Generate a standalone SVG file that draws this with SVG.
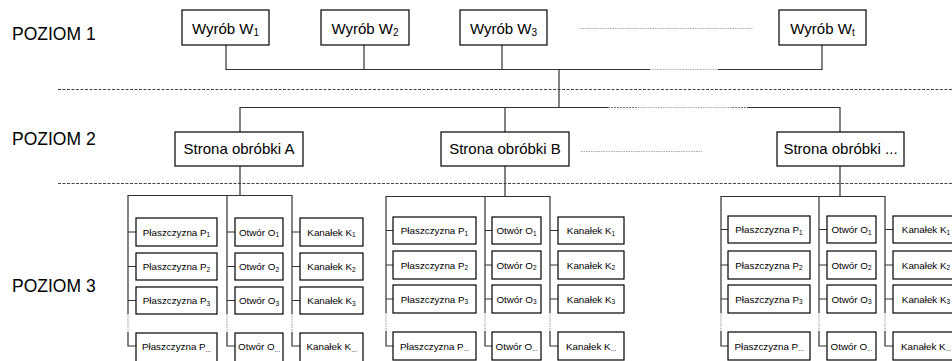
<svg xmlns="http://www.w3.org/2000/svg" width="952" height="361" viewBox="0 0 952 361">
<style>
.bg{fill:#fff}
.box{fill:#fff;stroke:#000;stroke-width:1.2}
.ln{fill:none;stroke:#333;stroke-width:1.2}
.dot{fill:none;stroke:#aaa;stroke-width:1.2;stroke-dasharray:1.5 1}
.dk{fill:none;stroke:#777;stroke-width:1.2;stroke-dasharray:2 1}
.dash{fill:none;stroke:#444;stroke-width:1;stroke-dasharray:3 1.5}
.lvl{font-family:"Liberation Sans",Arial,sans-serif;font-size:17.5px;fill:#000}
.t1{font-family:"Liberation Sans",Arial,sans-serif;font-size:15px;fill:#000;text-anchor:middle}
.t3{font-family:"Liberation Sans",Arial,sans-serif;font-size:9.8px;fill:#000;text-anchor:middle}
.s1{font-size:10px}
.s3{font-size:6.5px}
</style>
<rect class="bg" width="952" height="361"/>
<text class="lvl" x="12" y="40">POZIOM 1</text>
<text class="lvl" x="12" y="145">POZIOM 2</text>
<text class="lvl" x="12" y="292">POZIOM 3</text>
<g id="separators">
<line class="dash" x1="58" y1="89.5" x2="952" y2="89.5"/>
<line class="dash" x1="58" y1="183.5" x2="952" y2="183.5"/>
<line class="dot" x1="580" y1="28.5" x2="753" y2="28.5"/>
<line class="dot" x1="581" y1="151.5" x2="702" y2="151.5"/>
</g>
<g id="connectors">
<path class="ln" d="M226 45V69.5H650M718 69.5H822V45M364 45V69.5M502 45V69.5M559 69.5V107.5"/>
<line class="dot" x1="650" y1="69.5" x2="718" y2="69.5"/>
<path class="ln" d="M240 132V107.5H608M747 107.5H840V132M505 107.5V132"/>
<line class="dk" x1="608" y1="107.5" x2="638" y2="107.5"/>
<line class="dot" x1="638" y1="107.5" x2="732" y2="107.5"/>
<line class="dk" x1="732" y1="107.5" x2="747" y2="107.5"/>
<path class="ln" d="M240 166V195.5M128 314V195.5H292V314M227 195.5V314"/>
<path class="ln" d="M128 332V346H136M227 332V346H235M292 332V346H300"/>
<path class="ln" d="M128 232H136M128 266.5H136M128 300.5H136M227 232H235M227 266.5H235M227 300.5H235M292 232H300M292 266.5H300M292 300.5H300"/>
<path class="dot" d="M128 314V332M227 314V332M292 314V332"/>
<path class="ln" d="M505 166V196.5M386 313V196.5H550V313M485 196.5V313"/>
<path class="ln" d="M386 331V346H393M485 331V346H492M550 331V346H558"/>
<path class="ln" d="M386 230.5H393M386 265H393M386 299H393M485 230.5H492M485 265H492M485 299H492M550 230.5H558M550 265H558M550 299H558"/>
<path class="dot" d="M386 313V331M485 313V331M550 313V331"/>
<path class="ln" d="M840 166V196.5M721 313V196.5H885V313M819 196.5V313"/>
<path class="ln" d="M721 331V346H728M819 331V346H827M885 331V346H893"/>
<path class="ln" d="M721 229.5H728M721 265H728M721 299H728M819 229.5H827M819 265H827M819 299H827M885 229.5H893M885 265H893M885 299H893"/>
<path class="dot" d="M721 313V331M819 313V331M885 313V331"/>
</g>
<g id="w1"><rect class="box" x="182" y="10" width="87" height="35"/><text class="t1" x="225.5" y="33.5">Wyrób W<tspan class="s1" dy="2">1</tspan></text></g>
<g id="w2"><rect class="box" x="321" y="10" width="88" height="35"/><text class="t1" x="365" y="33.5">Wyrób W<tspan class="s1" dy="2">2</tspan></text></g>
<g id="w3"><rect class="box" x="460" y="10" width="87" height="35"/><text class="t1" x="503.5" y="33.5">Wyrób W<tspan class="s1" dy="2">3</tspan></text></g>
<g id="wt"><rect class="box" x="779" y="10" width="87" height="35"/><text class="t1" x="822.5" y="33.5">Wyrób W<tspan class="s1" dy="2">t</tspan></text></g>
<g id="sA"><rect class="box" x="175" y="132" width="128" height="34"/><text class="t1" x="239" y="154">Strona obróbki A</text></g>
<g id="sB"><rect class="box" x="441" y="132" width="128" height="34"/><text class="t1" x="505" y="154">Strona obróbki B</text></g>
<g id="sC"><rect class="box" x="777" y="132" width="127" height="34"/><text class="t1" x="840.5" y="154">Strona obróbki ...</text></g>
<g id="A-P1"><rect class="box" x="136" y="218" width="81" height="28"/><text class="t3" x="176.5" y="235.5">Płaszczyzna P<tspan class="s3" dy="1.5">1</tspan></text></g>
<g id="A-P2"><rect class="box" x="136" y="253" width="81" height="27"/><text class="t3" x="176.5" y="270">Płaszczyzna P<tspan class="s3" dy="1.5">2</tspan></text></g>
<g id="A-P3"><rect class="box" x="136" y="287" width="81" height="27"/><text class="t3" x="176.5" y="304">Płaszczyzna P<tspan class="s3" dy="1.5">3</tspan></text></g>
<g id="A-P4"><rect class="box" x="136" y="333" width="81" height="32"/><text class="t3" x="176.5" y="350">Płaszczyzna P<tspan class="s3" dy="1.5">...</tspan></text></g>
<g id="A-O1"><rect class="box" x="235" y="218" width="48" height="28"/><text class="t3" x="259" y="235.5">Otwór O<tspan class="s3" dy="1.5">1</tspan></text></g>
<g id="A-O2"><rect class="box" x="235" y="253" width="48" height="27"/><text class="t3" x="259" y="270">Otwór O<tspan class="s3" dy="1.5">2</tspan></text></g>
<g id="A-O3"><rect class="box" x="235" y="287" width="48" height="27"/><text class="t3" x="259" y="304">Otwór O<tspan class="s3" dy="1.5">3</tspan></text></g>
<g id="A-O4"><rect class="box" x="235" y="333" width="48" height="32"/><text class="t3" x="259" y="350">Otwór O<tspan class="s3" dy="1.5">...</tspan></text></g>
<g id="A-K1"><rect class="box" x="300" y="218" width="63" height="28"/><text class="t3" x="331.5" y="235.5">Kanałek K<tspan class="s3" dy="1.5">1</tspan></text></g>
<g id="A-K2"><rect class="box" x="300" y="253" width="63" height="27"/><text class="t3" x="331.5" y="270">Kanałek K<tspan class="s3" dy="1.5">2</tspan></text></g>
<g id="A-K3"><rect class="box" x="300" y="287" width="63" height="27"/><text class="t3" x="331.5" y="304">Kanałek K<tspan class="s3" dy="1.5">3</tspan></text></g>
<g id="A-K4"><rect class="box" x="300" y="333" width="63" height="32"/><text class="t3" x="331.5" y="350">Kanałek K<tspan class="s3" dy="1.5">...</tspan></text></g>
<g id="B-P1"><rect class="box" x="393" y="217" width="83" height="27"/><text class="t3" x="434.5" y="234">Płaszczyzna P<tspan class="s3" dy="1.5">1</tspan></text></g>
<g id="B-P2"><rect class="box" x="393" y="251" width="83" height="28"/><text class="t3" x="434.5" y="268.5">Płaszczyzna P<tspan class="s3" dy="1.5">2</tspan></text></g>
<g id="B-P3"><rect class="box" x="393" y="285" width="83" height="28"/><text class="t3" x="434.5" y="302.5">Płaszczyzna P<tspan class="s3" dy="1.5">3</tspan></text></g>
<g id="B-P4"><rect class="box" x="393" y="332" width="83" height="28"/><text class="t3" x="434.5" y="349.5">Płaszczyzna P<tspan class="s3" dy="1.5">...</tspan></text></g>
<g id="B-O1"><rect class="box" x="492" y="217" width="49" height="27"/><text class="t3" x="516.5" y="234">Otwór O<tspan class="s3" dy="1.5">1</tspan></text></g>
<g id="B-O2"><rect class="box" x="492" y="251" width="49" height="28"/><text class="t3" x="516.5" y="268.5">Otwór O<tspan class="s3" dy="1.5">2</tspan></text></g>
<g id="B-O3"><rect class="box" x="492" y="285" width="49" height="28"/><text class="t3" x="516.5" y="302.5">Otwór O<tspan class="s3" dy="1.5">3</tspan></text></g>
<g id="B-O4"><rect class="box" x="492" y="332" width="49" height="28"/><text class="t3" x="516.5" y="349.5">Otwór O<tspan class="s3" dy="1.5">...</tspan></text></g>
<g id="B-K1"><rect class="box" x="558" y="217" width="66" height="27"/><text class="t3" x="591" y="234">Kanałek K<tspan class="s3" dy="1.5">1</tspan></text></g>
<g id="B-K2"><rect class="box" x="558" y="251" width="66" height="28"/><text class="t3" x="591" y="268.5">Kanałek K<tspan class="s3" dy="1.5">2</tspan></text></g>
<g id="B-K3"><rect class="box" x="558" y="285" width="66" height="28"/><text class="t3" x="591" y="302.5">Kanałek K<tspan class="s3" dy="1.5">3</tspan></text></g>
<g id="B-K4"><rect class="box" x="558" y="332" width="66" height="28"/><text class="t3" x="591" y="349.5">Kanałek K<tspan class="s3" dy="1.5">...</tspan></text></g>
<g id="C-P1"><rect class="box" x="728" y="216" width="82" height="27"/><text class="t3" x="769" y="233">Płaszczyzna P<tspan class="s3" dy="1.5">1</tspan></text></g>
<g id="C-P2"><rect class="box" x="728" y="251" width="82" height="28"/><text class="t3" x="769" y="268.5">Płaszczyzna P<tspan class="s3" dy="1.5">2</tspan></text></g>
<g id="C-P3"><rect class="box" x="728" y="285" width="82" height="28"/><text class="t3" x="769" y="302.5">Płaszczyzna P<tspan class="s3" dy="1.5">3</tspan></text></g>
<g id="C-P4"><rect class="box" x="728" y="332" width="82" height="28"/><text class="t3" x="769" y="349.5">Płaszczyzna P<tspan class="s3" dy="1.5">...</tspan></text></g>
<g id="C-O1"><rect class="box" x="827" y="216" width="49" height="27"/><text class="t3" x="851.5" y="233">Otwór O<tspan class="s3" dy="1.5">1</tspan></text></g>
<g id="C-O2"><rect class="box" x="827" y="251" width="49" height="28"/><text class="t3" x="851.5" y="268.5">Otwór O<tspan class="s3" dy="1.5">2</tspan></text></g>
<g id="C-O3"><rect class="box" x="827" y="285" width="49" height="28"/><text class="t3" x="851.5" y="302.5">Otwór O<tspan class="s3" dy="1.5">3</tspan></text></g>
<g id="C-O4"><rect class="box" x="827" y="332" width="49" height="28"/><text class="t3" x="851.5" y="349.5">Otwór O<tspan class="s3" dy="1.5">...</tspan></text></g>
<g id="C-K1"><rect class="box" x="893" y="216" width="66" height="27"/><text class="t3" x="926" y="233">Kanałek K<tspan class="s3" dy="1.5">1</tspan></text></g>
<g id="C-K2"><rect class="box" x="893" y="251" width="66" height="28"/><text class="t3" x="926" y="268.5">Kanałek K<tspan class="s3" dy="1.5">2</tspan></text></g>
<g id="C-K3"><rect class="box" x="893" y="285" width="66" height="28"/><text class="t3" x="926" y="302.5">Kanałek K<tspan class="s3" dy="1.5">3</tspan></text></g>
<g id="C-K4"><rect class="box" x="893" y="332" width="66" height="28"/><text class="t3" x="926" y="349.5">Kanałek K<tspan class="s3" dy="1.5">...</tspan></text></g>
</svg>
